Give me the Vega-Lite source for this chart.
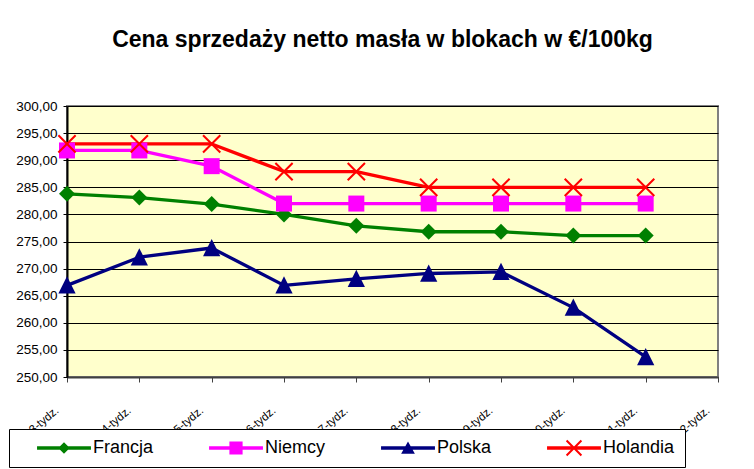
{
  "$schema": "https://vega.github.io/schema/vega-lite/v6.json",
  "width": 651,
  "height": 271,
  "autosize": {"type": "none"},
  "padding": {"left": 67, "top": 106, "right": 36, "bottom": 92},
  "background": "white",
  "title": {
    "text": "Cena sprzedaży netto masła w blokach w €/100kg",
    "font": "Liberation Sans",
    "fontSize": 23,
    "fontWeight": "bold",
    "color": "#000000",
    "anchor": "middle",
    "frame": "group",
    "dx": -10,
    "offset": 47
  },
  "config": {
    "view": {"fill": "#FFFFCC", "stroke": "#808080", "strokeWidth": 2},
    "font": "Liberation Sans"
  },
  "data": {
    "values": [
      {"tydzien": "3-tydz.", "kraj": "Francja", "cena": 283.8},
      {"tydzien": "4-tydz.", "kraj": "Francja", "cena": 283.1},
      {"tydzien": "5-tydz.", "kraj": "Francja", "cena": 281.9},
      {"tydzien": "6-tydz.", "kraj": "Francja", "cena": 280.0},
      {"tydzien": "7-tydz.", "kraj": "Francja", "cena": 277.9},
      {"tydzien": "8-tydz.", "kraj": "Francja", "cena": 276.8},
      {"tydzien": "9-tydz.", "kraj": "Francja", "cena": 276.8},
      {"tydzien": "10-tydz.", "kraj": "Francja", "cena": 276.1},
      {"tydzien": "11-tydz.", "kraj": "Francja", "cena": 276.1},
      {"tydzien": "3-tydz.", "kraj": "Niemcy", "cena": 291.8},
      {"tydzien": "4-tydz.", "kraj": "Niemcy", "cena": 291.8},
      {"tydzien": "5-tydz.", "kraj": "Niemcy", "cena": 288.9},
      {"tydzien": "6-tydz.", "kraj": "Niemcy", "cena": 282.0},
      {"tydzien": "7-tydz.", "kraj": "Niemcy", "cena": 282.0},
      {"tydzien": "8-tydz.", "kraj": "Niemcy", "cena": 282.0},
      {"tydzien": "9-tydz.", "kraj": "Niemcy", "cena": 282.0},
      {"tydzien": "10-tydz.", "kraj": "Niemcy", "cena": 282.0},
      {"tydzien": "11-tydz.", "kraj": "Niemcy", "cena": 282.0},
      {"tydzien": "3-tydz.", "kraj": "Polska", "cena": 266.9},
      {"tydzien": "4-tydz.", "kraj": "Polska", "cena": 272.1},
      {"tydzien": "5-tydz.", "kraj": "Polska", "cena": 273.8},
      {"tydzien": "6-tydz.", "kraj": "Polska", "cena": 266.9},
      {"tydzien": "7-tydz.", "kraj": "Polska", "cena": 268.1},
      {"tydzien": "8-tydz.", "kraj": "Polska", "cena": 269.1},
      {"tydzien": "9-tydz.", "kraj": "Polska", "cena": 269.4},
      {"tydzien": "10-tydz.", "kraj": "Polska", "cena": 262.8},
      {"tydzien": "11-tydz.", "kraj": "Polska", "cena": 253.7},
      {"tydzien": "3-tydz.", "kraj": "Holandia", "cena": 293.0},
      {"tydzien": "4-tydz.", "kraj": "Holandia", "cena": 293.0},
      {"tydzien": "5-tydz.", "kraj": "Holandia", "cena": 293.0},
      {"tydzien": "6-tydz.", "kraj": "Holandia", "cena": 287.9},
      {"tydzien": "7-tydz.", "kraj": "Holandia", "cena": 287.9},
      {"tydzien": "8-tydz.", "kraj": "Holandia", "cena": 285.0},
      {"tydzien": "9-tydz.", "kraj": "Holandia", "cena": 285.0},
      {"tydzien": "10-tydz.", "kraj": "Holandia", "cena": 285.0},
      {"tydzien": "11-tydz.", "kraj": "Holandia", "cena": 285.0}
    ]
  },
  "encoding": {
    "x": {
      "field": "tydzien",
      "type": "ordinal",
      "sort": ["3-tydz.", "4-tydz.", "5-tydz.", "6-tydz.", "7-tydz.", "8-tydz.", "9-tydz.", "10-tydz.", "11-tydz.", "12-tydz."],
      "scale": {"type": "point", "padding": 0, "domain": ["3-tydz.", "4-tydz.", "5-tydz.", "6-tydz.", "7-tydz.", "8-tydz.", "9-tydz.", "10-tydz.", "11-tydz.", "12-tydz."]},
      "axis": {
        "title": null,
        "labelAngle": -40,
        "labelAlign": "right",
        "labelBaseline": "middle",
        "labelPadding": 27,
        "labelOffset": -10,
        "labelFont": "Liberation Sans",
        "labelFontSize": 11.5,
        "labelColor": "#000000",
        "labelOverlap": false,
        "labelBound": false,
        "tickSize": 5,
        "tickColor": "#404040",
        "tickWidth": 1,
        "domainColor": "#404040",
        "domainWidth": 2,
        "grid": false
      }
    },
    "y": {
      "field": "cena",
      "type": "quantitative",
      "scale": {"domain": [250, 300], "zero": false, "nice": false},
      "axis": {
        "title": null,
        "values": [250, 255, 260, 265, 270, 275, 280, 285, 290, 295, 300],
        "labelExpr": "replace(format(datum.value, '.2f'), '.', ',')",
        "labelFont": "Liberation Sans",
        "labelFontSize": 13.5,
        "labelColor": "#000000",
        "labelPadding": 6,
        "tickSize": 4,
        "tickColor": "#000000",
        "domainColor": "#000000",
        "domainWidth": 2,
        "grid": true,
        "gridColor": "#000000",
        "gridWidth": 1,
        "gridOpacity": 1
      }
    },
    "color": {
      "field": "kraj",
      "type": "nominal",
      "scale": {"domain": ["Francja", "Niemcy", "Polska", "Holandia"], "range": ["#008000", "#FF00FF", "#000080", "#FF0000"]},
      "legend": {
        "title": null,
        "orient": "none",
        "legendX": -58,
        "legendY": 323,
        "direction": "horizontal",
        "strokeColor": "#000000",
        "fillColor": "#FFFFFF",
        "padding": 10,
        "symbolOffset": 36,
        "labelOffset": 20,
        "columnPadding": 37,
        "labelFont": "Liberation Sans",
        "labelFontSize": 18,
        "labelColor": "#000000",
        "symbolSize": 121,
        "encode": {
          "symbols": {
            "update": {
              "shape": {"signal": "datum.value === 'Francja' ? 'M-4.9,-0.32H4.9V0.32H-4.9ZM0,-1.05L1.05,0L0,1.05L-1.05,0Z' : datum.value === 'Niemcy' ? 'M-4.9,-0.32H4.9V0.32H-4.9ZM-1.2,-1.2H1.2V1.2H-1.2Z' : datum.value === 'Polska' ? 'M-4.9,-0.32H4.9V0.32H-4.9ZM0,-1.2L1.25,1.05L-1.25,1.05Z' : 'M-4.9,-0.32H4.9V0.32H-4.9ZM-1.22,-1.48L1.48,1.22L1.22,1.48L-1.48,-1.22ZM-1.22,1.48L-1.48,1.22L1.22,-1.48L1.48,-1.22Z'"},
              "size": {"value": 121},
              "fill": {"scale": "color", "field": "value"},
              "stroke": {"value": "transparent"},
              "strokeWidth": {"value": 0},
              "opacity": {"value": 1}
            }
          }
        }
      }
    }
  },
  "layer": [
    {
      "mark": {"type": "line", "strokeWidth": 3.3, "strokeJoin": "round"}
    },
    {
      "transform": [{"filter": "datum.kraj === 'Francja'"}],
      "mark": {"type": "point", "filled": true, "opacity": 1, "size": 256, "shape": "M0,-1L1,0L0,1L-1,0Z"}
    },
    {
      "transform": [{"filter": "datum.kraj === 'Niemcy'"}],
      "mark": {"type": "point", "filled": true, "opacity": 1, "size": 256, "shape": "M-1,-1H1V1H-1Z"}
    },
    {
      "transform": [{"filter": "datum.kraj === 'Polska'"}],
      "mark": {"type": "point", "filled": true, "opacity": 1, "size": 270, "shape": "M0,-1.1L1.05,1L-1.05,1Z"}
    },
    {
      "transform": [{"filter": "datum.kraj === 'Holandia'"}],
      "mark": {"type": "point", "filled": true, "opacity": 1, "size": 270, "shape": "M-0.962,-1.138L1.138,0.962L0.962,1.138L-1.138,-0.962ZM-0.962,1.138L-1.138,0.962L0.962,-1.138L1.138,-0.962Z"}
    }
  ]
}
